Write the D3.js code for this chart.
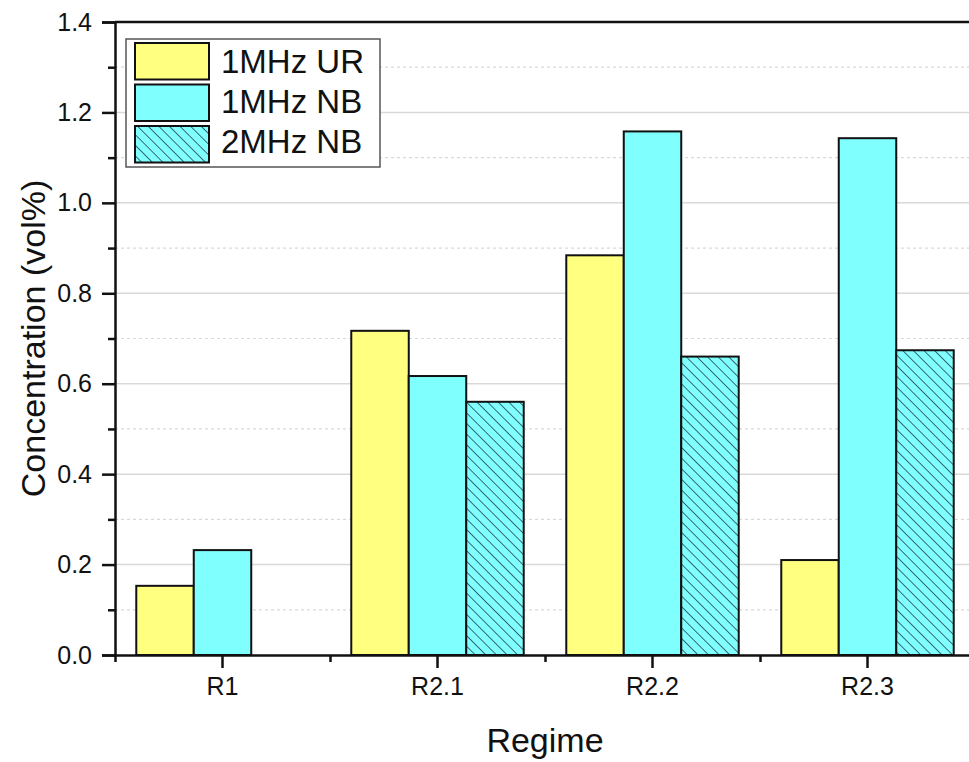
<!DOCTYPE html>
<html><head><meta charset="utf-8">
<script src="https://cdn.jsdelivr.net/npm/d3@7"></script>
<style>body{margin:0;background:#fff}svg{display:block}</style>
</head><body>
<svg id="c" width="969" height="762"></svg>
<script>
const categories = ["R1","R2.1","R2.2","R2.3"];
const seriesNames = ["1MHz UR","1MHz NB","2MHz NB"];
const ur1 = [0.153, 0.717, 0.884, 0.210];
const nb1 = [0.232, 0.617, 1.158, 1.143];
const nb2 = [null, 0.560, 0.660, 0.674];
const yTicks = [0.0,0.2,0.4,0.6,0.8,1.0,1.2,1.4];
const yMinor = [0.1,0.3,0.5,0.7,0.9,1.1,1.3];

const series = [ur1, nb1, nb2];
const svg = d3.select("#c");
const m = {l:115, t:22, r:975, b:655};
const x = d3.scaleBand().domain(categories).range([m.l, m.r]).paddingInner(0).paddingOuter(0);
const xs = d3.scaleBand().domain(seriesNames).range([0, x.bandwidth()]).paddingInner(0).paddingOuter(0.37);
const y = d3.scaleLinear().domain([0,1.4]).range([m.b, m.t]);

const defs = svg.append("defs");
const pat = defs.append("pattern").attr("id","hatch").attr("patternUnits","userSpaceOnUse")
  .attr("width",7.5).attr("height",7.5).attr("patternTransform","rotate(-45)");
pat.append("rect").attr("width",7.5).attr("height",7.5).attr("fill","#80ffff");
pat.append("line").attr("x1",0).attr("y1",0).attr("x2",0).attr("y2",7.5).attr("stroke","#1a2a3a").attr("stroke-width",1.4);

const fills = ["#ffff80","#80ffff","url(#hatch)"];

// grid
svg.append("g").selectAll("line").data(yTicks.slice(1,-1)).join("line")
  .attr("x1",m.l).attr("x2",m.r).attr("y1",d=>y(d)).attr("y2",d=>y(d))
  .attr("stroke","#d9d9d9").attr("stroke-width",1.5);
svg.append("g").selectAll("line").data(yMinor).join("line")
  .attr("x1",m.l).attr("x2",m.r).attr("y1",d=>y(d)).attr("y2",d=>y(d))
  .attr("stroke","#d9d9d9").attr("stroke-width",1.2).attr("stroke-dasharray","3,3");

// bars
const g = svg.append("g");
series.forEach((vals,si)=>{
  g.append("g").selectAll("rect").data(categories.map((c,i)=>({c,v:vals[i]})).filter(d=>d.v!=null)).join("rect")
    .attr("x",d=>x(d.c)+xs(seriesNames[si]))
    .attr("width",xs.bandwidth())
    .attr("y",d=>y(d.v)).attr("height",d=>y(0)-y(d.v))
    .attr("fill",fills[si]).attr("stroke","#111").attr("stroke-width",2);
});

// axes
const font = "'Liberation Sans', Arial, sans-serif";
const yAxis = d3.axisLeft(y).tickValues(yTicks).tickFormat(d3.format(".1f")).tickSize(13).tickPadding(10);
const ya = svg.append("g").attr("transform",`translate(${m.l},0)`).call(yAxis);
const yMin = d3.axisLeft(y).tickValues(yMinor).tickSize(7).tickFormat("");
svg.append("g").attr("transform",`translate(${m.l},0)`).call(yMin).select(".domain").remove();

const xAxis = d3.axisBottom(x).tickSize(13).tickPadding(9).tickSizeOuter(0);
const xa = svg.append("g").attr("transform",`translate(0,${m.b})`).call(xAxis);
const xMinor = d3.axisBottom(d3.scaleLinear().domain([0,4]).range([m.l,m.r])).tickValues([0,1,2,3,4]).tickSize(7).tickFormat("");
svg.append("g").attr("transform",`translate(0,${m.b})`).call(xMinor).select(".domain").remove();

[ya,xa].forEach(a=>{
  a.attr("font-family",font).attr("font-size",25);
  a.selectAll("text").style("font-family",font).style("font-size","25px").attr("fill","#111");
});
svg.selectAll(".domain, .tick line").attr("stroke","#111").attr("stroke-width",2.5);

// top axis line
svg.append("line").attr("x1",m.l).attr("x2",m.r).attr("y1",m.t).attr("y2",m.t).attr("stroke","#111").attr("stroke-width",2.5);

// titles
svg.append("text").attr("x",(m.l+m.r)/2).attr("y",752).attr("text-anchor","middle")
  .attr("font-family",font).attr("font-size",34).attr("fill","#111").text("Regime");
svg.append("text").attr("transform",`translate(45,${(m.t+m.b)/2}) rotate(-90)`).attr("text-anchor","middle")
  .attr("font-family",font).attr("font-size",34).attr("fill","#111").text("Concentration (vol%)");

// legend
const lg = svg.append("g");
lg.append("rect").attr("x",126).attr("y",39).attr("width",254).attr("height",128)
  .attr("fill","#fff").attr("stroke","#555").attr("stroke-width",1.5);
seriesNames.forEach((s,i)=>{
  const yy = 43 + i*41.5;
  lg.append("rect").attr("x",135).attr("y",yy).attr("width",74).attr("height",36.5)
    .attr("fill",fills[i]).attr("stroke","#111").attr("stroke-width",2);
  lg.append("text").attr("x",221).attr("y",73 + i*40).attr("font-family",font).attr("font-size",33)
    .attr("fill","#111").text(s);
});
</script>
</body></html>
